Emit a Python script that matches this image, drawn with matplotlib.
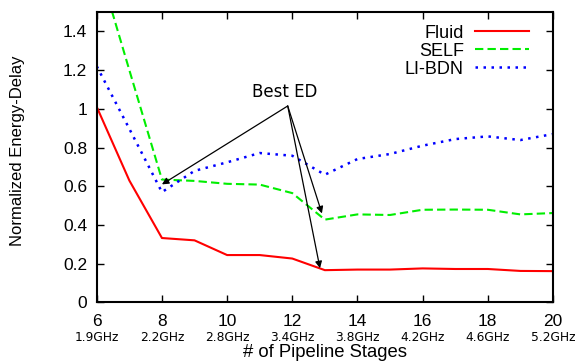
import matplotlib
matplotlib.use("Agg")
import matplotlib.pyplot as plt

plt.rcParams['font.family'] = ['Liberation Sans', 'DejaVu Sans']

stages = [6, 7, 8, 9, 10, 11, 12, 13, 14, 15, 16, 17, 18, 19, 20]
fluid = [1.01, 0.63, 0.333, 0.321, 0.245, 0.245, 0.227, 0.167, 0.170, 0.170, 0.176, 0.173, 0.173, 0.163, 0.162]
self_ = [1.77, 1.20, 0.635, 0.628, 0.613, 0.609, 0.565, 0.428, 0.455, 0.452, 0.479, 0.480, 0.479, 0.455, 0.462]
libdn = [1.22, 0.897, 0.57, 0.68, 0.724, 0.772, 0.758, 0.66, 0.741, 0.767, 0.81, 0.844, 0.858, 0.839, 0.87]

xticks = [6, 8, 10, 12, 14, 16, 18, 20]
freqs = ["1.9GHz", "2.2GHz", "2.8GHz", "3.4GHz", "3.8GHz", "4.2GHz", "4.6GHz", "5.2GHz"]
yticks = [0, 0.2, 0.4, 0.6, 0.8, 1.0, 1.2, 1.4]
ylabels = ["0", "0.2", "0.4", "0.6", "0.8", "1", "1.2", "1.4"]

fig = plt.figure(figsize=(5.76, 3.63), dpi=100)
ax = fig.add_axes([0.168, 0.1667, 0.792, 0.80])

ax.plot(stages, fluid, color='#ff0000', lw=1.5, label='Fluid')
ax.plot(stages, self_, color='#00ee00', lw=1.5, ls=(0, (4, 2)), label='SELF')
ax.plot(stages, libdn, color='#0000ff', lw=1.8, ls=(0, (1, 2.2)), label='LI-BDN')

ax.set_xlim(6, 20)
ax.set_ylim(0, 1.5)
ax.set_xticks(xticks)
ax.set_xticklabels([str(v) for v in xticks], fontsize=12.5)
ax.set_yticks(yticks)
ax.set_yticklabels(ylabels, fontsize=12.5)
ax.tick_params(direction='in', top=True, right=True, length=5, width=1)
ax.tick_params(axis='x', pad=8)
ax.tick_params(axis='y', pad=7)
for s in ax.spines.values():
    s.set_linewidth(1.5)

for x, f in zip(xticks, freqs):
    ax.annotate(f, xy=(x, 0), xycoords=('data', 'axes fraction'),
                xytext=(0, -20.5), textcoords='offset points',
                ha='center', va='top', fontsize=8.8, family='DejaVu Sans')

fig.text(325 / 576, 1 - 352.5 / 363, "# of Pipeline Stages", fontsize=13.3,
         ha='center', va='center')
fig.text(18 / 576, 1 - 151 / 363, "Normalized Energy-Delay", fontsize=12,
         ha='center', va='center', rotation=90)

# annotation
apex = (11.86, 1.015)
targets = [(8.0, 0.61), (12.91, 0.46), (12.85, 0.177)]
for t in targets:
    ax.annotate("", xy=t, xytext=apex,
                arrowprops=dict(arrowstyle='-|>', color='black', lw=0.9,
                                shrinkA=0, shrinkB=0, mutation_scale=10))
ax.text(11.77, 1.085, "Best ED", ha='center', va='center', fontsize=12,
        family='DejaVu Sans')

leg = ax.legend(loc='upper right', frameon=False, fontsize=13, markerfirst=False,
                handlelength=3.0, handletextpad=0.6, labelspacing=0.05,
                borderaxespad=0.3, bbox_to_anchor=(0.975, 1.0))
for t in leg.get_texts():
    t.set_ha('right')

fig.savefig("out.png", dpi=100)
